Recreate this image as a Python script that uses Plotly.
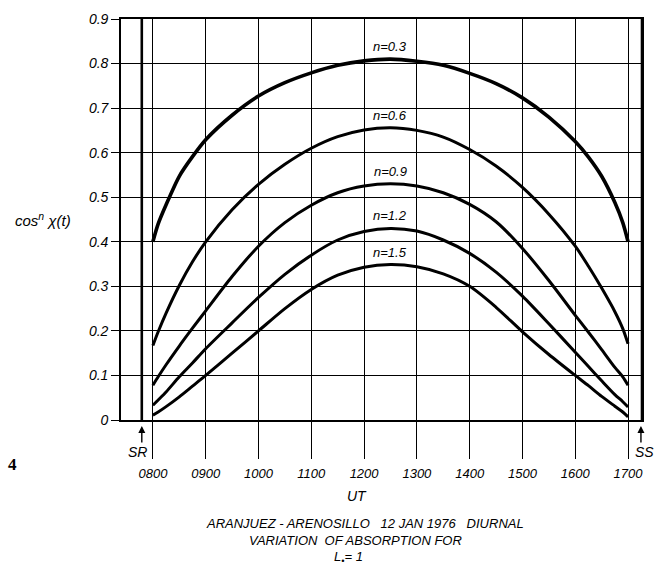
import plotly.graph_objects as go

# Universal time in decimal hours
HOURS = [8.0, 8.1, 8.25, 8.5, 8.75, 9.0, 9.5, 10.0, 10.5, 11.0, 11.5, 12.0, 12.5,
         13.0, 13.5, 14.0, 14.5, 15.0, 15.5, 16.0, 16.25, 16.5, 16.75, 16.9, 17.0]

# cos^n chi(t) for each exponent n
COS_N03 = [0.400, 0.440, 0.483, 0.547, 0.591, 0.629, 0.684, 0.727, 0.757, 0.779, 0.796, 0.806, 0.810,
           0.805, 0.796, 0.778, 0.755, 0.723, 0.680, 0.625, 0.590, 0.547, 0.488, 0.443, 0.400]
COS_N06 = [0.167, 0.198, 0.240, 0.302, 0.355, 0.400, 0.472, 0.529, 0.574, 0.610, 0.636, 0.651, 0.656,
           0.650, 0.635, 0.607, 0.570, 0.522, 0.462, 0.390, 0.345, 0.296, 0.243, 0.205, 0.171]
COS_N09 = [0.078, 0.097, 0.124, 0.166, 0.206, 0.245, 0.322, 0.390, 0.443, 0.482, 0.510, 0.525, 0.530,
           0.525, 0.510, 0.484, 0.445, 0.385, 0.313, 0.235, 0.197, 0.158, 0.118, 0.097, 0.078]
COS_N12 = [0.033, 0.045, 0.063, 0.097, 0.128, 0.160, 0.218, 0.275, 0.327, 0.370, 0.404, 0.423, 0.430,
           0.424, 0.404, 0.374, 0.332, 0.278, 0.216, 0.152, 0.120, 0.088, 0.057, 0.041, 0.029]
COS_N15 = [0.011, 0.018, 0.030, 0.052, 0.076, 0.100, 0.150, 0.200, 0.250, 0.293, 0.325, 0.343, 0.349,
           0.344, 0.328, 0.300, 0.253, 0.198, 0.147, 0.100, 0.077, 0.053, 0.031, 0.018, 0.007]

SERIES_LABELS = ["n=0.3", "n=0.6", "n=0.9", "n=1.2", "n=1.5"]
SERIES_VALUES = [COS_N03, COS_N06, COS_N09, COS_N12, COS_N15]
SERIES_WIDTHS = [3.6, 3.0, 3.0, 3.0, 3.0]

# Hour ticks and their labels
TICK_HOURS = [8, 9, 10, 11, 12, 13, 14, 15, 16, 17]
TICK_TEXT = ["0800", "0900", "1000", "1100", "1200", "1300", "1400", "1500", "1600", "1700"]
Y_TICKS = [0, 0.1, 0.2, 0.3, 0.4, 0.5, 0.6, 0.7, 0.8, 0.9]
Y_TEXT = ["0", "0.1", "0.2", "0.3", "0.4", "0.5", "0.6", "0.7", "0.8", "0.9"]

SUNRISE = 7.79   # SR
SUNSET = 17.264  # SS
X_START = 7.396

FONT = "Liberation Sans"
INK = "#000000"
NB = "\u00a0"


def italic(size):
    return dict(family=FONT, size=size, color=INK, style="italic")


fig = go.Figure()

for label, vals, w in zip(SERIES_LABELS, SERIES_VALUES, SERIES_WIDTHS):
    fig.add_trace(go.Scatter(
        x=HOURS, y=vals, mode="lines", name=label,
        line=dict(color=INK, width=w, shape="spline", smoothing=0.8),
        showlegend=False, hoverinfo="skip",
    ))
    peak = max(vals)
    fig.add_annotation(
        x=HOURS[vals.index(peak)], y=peak + 0.028, xref="x", yref="y",
        text=label, showarrow=False, xanchor="center", yanchor="middle",
        font=italic(13),
    )

# Sunrise line and heavy right edge (sunset)
for xv in (SUNRISE, SUNSET):
    fig.add_shape(type="line", xref="x", yref="y", x0=xv, x1=xv, y0=0, y1=0.9,
                  line=dict(color=INK, width=2.6), layer="above")

# SR / SS arrows
for xv in (SUNRISE, SUNSET - 0.02):
    fig.add_annotation(x=xv, y=-0.015, xref="x", yref="paper", text="",
                       showarrow=True, ax=0, ay=18, arrowhead=2, arrowsize=1,
                       arrowwidth=1.4, arrowcolor=INK)

# SR / SS labels, axis titles and caption (paper coordinates)
texts = [
    ("SR", 0.032, -0.079, 14),
    ("SS", 1.005, -0.079, 14),
    ("cos<sup>n</sup>\u00a0\u03c7(t)", -0.149, 0.5, 15),
    ("UT", 0.453, -0.19, 14),
    ("ARANJUEZ - ARENOSILLO" + NB * 3 + "12 JAN 1976" + NB * 3 + "DIURNAL", 0.468, -0.259, 13),
    ("VARIATION" + NB * 2 + "OF ABSORPTION FOR", 0.451, -0.301, 13),
    ("L<sub>\u2022</sub>= 1", 0.436, -0.343, 13),
]
for txt, xp, yp, fs in texts:
    fig.add_annotation(x=xp, y=yp, xref="paper", yref="paper", text=txt,
                       showarrow=False, xanchor="center", yanchor="middle",
                       font=italic(fs))
fig.add_annotation(x=-0.208, y=-0.111, xref="paper", yref="paper", text="<b>4</b>",
                   showarrow=False, xanchor="center", yanchor="middle",
                   font=dict(family="Liberation Serif", size=17, color=INK))

fig.update_xaxes(
    range=[X_START, SUNSET], tickvals=TICK_HOURS, ticktext=TICK_TEXT,
    showgrid=True, gridcolor=INK, gridwidth=1.4,
    showline=True, linecolor=INK, linewidth=1.6, mirror=True,
    ticks="outside", ticklen=37, tickwidth=1.4, tickcolor=INK,
    ticklabelstandoff=4, tickfont=italic(13), zeroline=False,
)
fig.update_yaxes(
    range=[0, 0.9], tickvals=Y_TICKS, ticktext=Y_TEXT,
    showgrid=True, gridcolor=INK, gridwidth=1.4,
    showline=True, linecolor=INK, linewidth=1.6, mirror=True,
    ticks="outside", ticklen=8, tickwidth=1.4, tickcolor=INK,
    tickfont=italic(14), zeroline=False,
)

fig.update_layout(
    width=655, height=582,
    margin=dict(l=121, r=11, t=15, b=162),
    paper_bgcolor="white", plot_bgcolor="white",
)

fig.write_html("out.html")
